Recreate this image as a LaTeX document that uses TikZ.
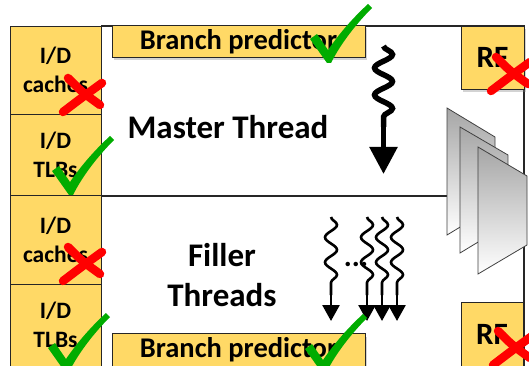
\documentclass[tikz,border=0pt]{standalone}
\usepackage{fontspec}
\setmainfont{Carlito}
\usetikzlibrary{arrows.meta,decorations.pathmorphing,shadows}
\definecolor{boxyellow}{RGB}{255,217,102}
\definecolor{chkgreen}{RGB}{0,172,0}
\definecolor{xred}{RGB}{255,0,0}
\tikzset{
  unitbox/.style={draw=black!85, line width=0.9pt, fill=boxyellow, inner sep=0pt, font=\bfseries\fontsize{23.5}{29}\selectfont, align=center},
  shadowbox/.style={unitbox, drop shadow={opacity=0.35, shadow xshift=2pt, shadow yshift=-3pt}},
  frameline/.style={line width=2pt, draw=black!85},
  bigtext/.style={font=\bfseries\fontsize{33}{40}\selectfont, align=center, inner sep=0pt},
  plate/.style={draw=black!75, line width=0.8pt, top color=black!35, bottom color=white},
  masterwave/.style={line width=5.5pt, decorate, decoration={snake, amplitude=9pt, segment length=27pt}},
  fillerwave/.style={line width=2.6pt, decorate, decoration={snake, amplitude=6pt, segment length=25pt}},
  chk/.pic={\fill[chkgreen] (0,2) -- (-17,-22) -- (-10,-27) -- (1,-11) .. controls (14,-30) and (28,-45) .. (41,-57) -- (45,-53) .. controls (30,-38) and (14,-18) .. (4,2) -- cycle;},
  xmark/.pic={\draw[xred, line width=8.5pt, line cap=round] (-14,-18) .. controls (0,-4) .. (18,9);
              \draw[xred, line width=8.5pt, line cap=round] (20,-13) .. controls (2,0) .. (-19,16);}
}
\begin{document}
\begin{tikzpicture}[x=1pt, y=-1pt]
\useasboundingbox (0,0) rectangle (529,366);
% main frame
\coordinate (ftl) at (101,26);
\coordinate (ftr) at (524,26);
\coordinate (fbr) at (524,367);
\coordinate (dl) at (101,195.5);
\coordinate (dr) at (447,195.5);
\draw[frameline] (ftl) -- (ftr) -- (fbr);
\draw[frameline] (dl) -- (dr);
% left column
\node[unitbox, minimum width=91pt, minimum height=88pt] (c1) at (55.5,70) {I/D\\caches};
\node[unitbox, minimum width=91pt, minimum height=81pt] (t1) at (55.5,155) {I/D\\TLBs};
\node[unitbox, minimum width=91pt, minimum height=89pt] (c2) at (55.5,239.5) {I/D\\caches};
\node[unitbox, minimum width=91pt, minimum height=82pt] (t2) at (55.5,325) {I/D\\TLBs};
% branch predictors and RFs
\node[shadowbox, minimum width=253pt, minimum height=32pt, font=\bfseries\fontsize{28.5}{30}\selectfont] (bp1) at (238.5,41.5) {Branch predictor};
\node[shadowbox, minimum width=253pt, minimum height=33pt, font=\bfseries\fontsize{28.5}{30}\selectfont] (bp2) at (238.5,350) {Branch predictor};
\node[shadowbox, minimum width=63pt, minimum height=63pt, font=\bfseries\fontsize{31}{34}\selectfont] (rf1) at (492.5,57.5) {RF};
\node[unitbox, minimum width=62pt, minimum height=64pt, font=\bfseries\fontsize{31}{34}\selectfont] (rf2) at (492,334) {RF};
% labels
\node[bigtext] (mt) at (228,127) {Master Thread};
\node[bigtext] (ft) at (222,275) {Filler\\Threads};
% master wave
\coordinate (m1) at (383.5,46);
\coordinate (m2) at (383.5,127);
\coordinate (m3) at (383.5,174);
\draw[masterwave] (m1) -- (m2);
\draw[line width=5.5pt, -{Triangle[width=27pt,length=27pt]}] (m2) -- (m3);
% filler waves
\foreach \x/\n in {331/a,367/b,382/c,397/d}{
  \coordinate (f\n1) at (\x,217);
  \coordinate (f\n2) at (\x,295);
  \coordinate (f\n3) at (\x,321);
}
\node[font=\bfseries\fontsize{30}{32}\selectfont, inner sep=0pt] (dots) at (356,264) {...};
\foreach \n in {a,b,c,d}{
  \draw[fillerwave] (f\n1) -- (f\n2);
  \draw[line width=2.6pt, -{Triangle[width=17pt,length=16pt]}] (f\n2) -- (f\n3);
}
% plates
\path[plate] (447,108) -- (495,137) -- (495,206) -- (447,235) -- cycle;
\path[plate] (460,127) -- (508,155) -- (508,224) -- (460,253) -- cycle;
\path[plate] (478,147) -- (527,176) -- (527,245) -- (478,274) -- cycle;
% checks and crosses
\pic at (327,61) {chk};
\pic at (69,193) {chk};
\pic at (65,370) {chk};
\pic at (322,371) {chk};
\pic at (82,96) {xmark};
\pic at (82,265) {xmark};
\pic at (510,75) {xmark};
\pic at (512,349) {xmark};
\end{tikzpicture}
\end{document}
